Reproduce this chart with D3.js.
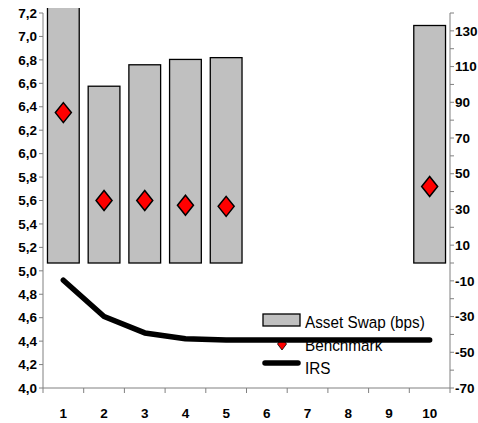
<!DOCTYPE html>
<html>
<head>
<meta charset="utf-8">
<script src="https://cdn.jsdelivr.net/npm/d3@7"></script>
<style>
  body { margin: 0; background: #fff; overflow: hidden; }
  svg text { font-family: "Liberation Sans", Arial, sans-serif; }
</style>
</head>
<body>
<div id="chart"></div>
<script>
// data
const categories = [1, 2, 3, 4, 5, 6, 7, 8, 9, 10];
const assetSwap = [150, 99, 111, 114, 115, null, null, null, null, 133];   // bps, right axis
const benchmark = [6.35, 5.60, 5.60, 5.56, 5.55, null, null, null, null, 5.72]; // %, left axis
const irs = [4.92, 4.61, 4.47, 4.42, 4.41, 4.41, 4.41, 4.41, 4.41, 4.41];
const leftTicks = d3.range(4.0, 7.21, 0.2);
const rightTicks = d3.range(-70, 131, 20);
const legendLabels = ["Asset Swap (bps)", "Benchmark", "IRS"];

let width = 478, height = 423,
    margin = { top: 13, right: 28, bottom: 35, left: 43 };

let svg = d3.select("#chart").append("svg")
    .attr("width", width)
    .attr("height", height);

let x = d3.scaleBand()
    .domain(categories)
    .range([margin.left, width - margin.right])
    .paddingInner(0.22)
    .paddingOuter(0.11);

let xTick = d3.scaleLinear()
    .domain([0, 10])
    .range([margin.left, width - margin.right]);

let yLeft = d3.scaleLinear()
    .domain([4.0, 7.2])
    .range([height - margin.bottom, margin.top]);

let yRight = d3.scaleLinear()
    .domain([-70, 140])
    .range([height - margin.bottom, margin.top]);

svg.append("clipPath").attr("id", "plotclip")
    .append("rect")
    .attr("x", margin.left)
    .attr("y", margin.top - 5)
    .attr("width", width - margin.left - margin.right)
    .attr("height", height - margin.top - margin.bottom + 5);

// bars
let barData = categories.map((c, i) => ({ c: c, v: assetSwap[i] })).filter(d => d.v != null);
svg.append("g").attr("clip-path", "url(#plotclip)")
    .selectAll("rect")
    .data(barData)
    .enter()
    .append("rect")
    .attr("x", d => x(d.c))
    .attr("width", x.bandwidth())
    .attr("y", d => yRight(d.v))
    .attr("height", d => yRight(0) - yRight(d.v))
    .style("fill", "#c0c0c0")
    .style("stroke", "#000")
    .style("stroke-width", 1.3);

// axes
let axisColor = "#808080";
let tickFont = "13.5px";
let gl = svg.append("g");
gl.append("line")
    .attr("x1", margin.left).attr("x2", margin.left)
    .attr("y1", margin.top).attr("y2", height - margin.bottom)
    .style("stroke", axisColor);
gl.selectAll(".lt").data(leftTicks).enter().append("line")
    .attr("x1", margin.left - 4).attr("x2", margin.left)
    .attr("y1", d => yLeft(d)).attr("y2", d => yLeft(d))
    .style("stroke", axisColor);
gl.selectAll(".ll").data(leftTicks).enter().append("text")
    .attr("x", margin.left - 6)
    .attr("y", d => yLeft(d))
    .attr("dy", "0.35em")
    .attr("text-anchor", "end")
    .style("font-size", tickFont)
    .style("font-weight", "bold")
    .text(d => d3.format(".1f")(d).replace(".", ","));

let rx = width - margin.right;
let gr = svg.append("g");
gr.append("line")
    .attr("x1", rx).attr("x2", rx)
    .attr("y1", margin.top).attr("y2", height - margin.bottom)
    .style("stroke", axisColor);
gr.selectAll(".rt").data(d3.range(-70, 141, 10)).enter().append("line")
    .attr("x1", rx).attr("x2", rx + 4)
    .attr("y1", d => yRight(d)).attr("y2", d => yRight(d))
    .style("stroke", axisColor);
gr.selectAll(".rl").data(rightTicks).enter().append("text")
    .attr("x", rx + 5)
    .attr("y", d => yRight(d))
    .attr("dy", "0.35em")
    .style("font-size", tickFont)
    .style("font-weight", "bold")
    .text(d => d);

let gb = svg.append("g");
let by = height - margin.bottom;
gb.append("line")
    .attr("x1", margin.left).attr("x2", rx)
    .attr("y1", by).attr("y2", by)
    .style("stroke", axisColor);
gb.selectAll(".bt").data(d3.range(0, 11)).enter().append("line")
    .attr("x1", d => xTick(d)).attr("x2", d => xTick(d))
    .attr("y1", by).attr("y2", by + 5)
    .style("stroke", axisColor);
gb.selectAll(".bl").data(categories).enter().append("text")
    .attr("x", d => x(d) + x.bandwidth() / 2)
    .attr("y", by + 25)
    .attr("dy", "0.35em")
    .attr("text-anchor", "middle")
    .style("font-size", tickFont)
    .style("font-weight", "bold")
    .text(d => d);

// legend
let lx = 263, ly = 314;
let lg = svg.append("g");
lg.append("rect")
    .attr("x", lx).attr("y", ly)
    .attr("width", 37).attr("height", 12)
    .style("fill", "#c0c0c0").style("stroke", "#000").style("stroke-width", 1.3);
lg.selectAll("text").data(legendLabels).enter().append("text")
    .attr("transform", (d, i) => "translate(" + (lx + 42) + "," + (ly + 8 + i * 23) + ") scale(0.9,1)")
    .attr("dy", "0.35em")
    .style("font-size", "17px")
    .text(d => d);

// IRS line
let line = d3.line()
    .x((d, i) => x(categories[i]) + x.bandwidth() / 2)
    .y(d => yLeft(d));
svg.append("path")
    .datum(irs)
    .attr("d", line)
    .style("fill", "none")
    .style("stroke", "#000")
    .style("stroke-width", 5.5)
    .style("stroke-linecap", "round")
    .style("stroke-linejoin", "round");

lg.append("line")
    .attr("x1", lx + 2).attr("x2", lx + 35)
    .attr("y1", ly + 49).attr("y2", ly + 49)
    .style("stroke", "#000").style("stroke-width", 5.5).style("stroke-linecap", "round");
lg.append("path")
    .attr("d", "M0,-6L4.5,0L0,6L-4.5,0Z")
    .attr("transform", "translate(" + (lx + 19) + "," + (ly + 30) + ")")
    .style("fill", "#ff0000").style("stroke", "#000").style("stroke-width", 0.8);

// benchmark diamonds
let benchData = categories.map((c, i) => ({ c: c, v: benchmark[i] })).filter(d => d.v != null);
svg.append("g").selectAll("path")
    .data(benchData)
    .enter()
    .append("path")
    .attr("d", "M0,-10L8,0L0,10L-8,0Z")
    .attr("transform", d => "translate(" + (x(d.c) + x.bandwidth() / 2) + "," + yLeft(d.v) + ")")
    .style("fill", "#ff0000")
    .style("stroke", "#000")
    .style("stroke-width", 1.5);
</script>
</body>
</html>
